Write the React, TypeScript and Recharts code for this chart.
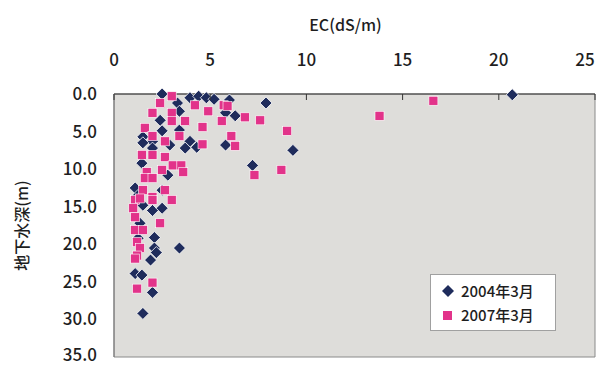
import React from "react";
import {
  CartesianGrid,
  ReferenceArea,
  Scatter,
  ScatterChart,
  XAxis,
  YAxis,
} from "recharts";

// EC (dS/m) and groundwater depth (m)
const ec2004 = [
  20.7, 7.9, 2.5, 3.3, 3.95, 4.4, 4.8, 5.2, 6.0, 3.4, 5.8, 6.3, 2.4, 3.4, 2.5,
  1.5, 2.0, 3.95, 5.8, 4.3, 9.3, 1.5, 2.0, 2.9, 3.7, 7.2, 1.45, 2.8, 1.1, 2.5,
  1.25, 1.5, 2.0, 2.5, 1.35, 2.1, 1.25, 2.1, 3.4, 2.2, 1.9, 1.1, 1.45, 2.0, 1.5,
];
const depth2004 = [
  0.1, 1.2, 0.0, 1.2, 0.5, 0.3, 0.5, 0.7, 0.8, 2.3, 2.5, 2.9, 3.5, 4.8, 4.9,
  5.7, 6.3, 6.3, 6.8, 7.1, 7.5, 6.5, 7.2, 6.8, 7.2, 9.5, 9.2, 10.8, 12.5, 12.8,
  13.5, 14.8, 15.5, 15.2, 17.2, 19.1, 19.2, 20.5, 20.5, 21.1, 22.1, 23.9, 24.1,
  26.4, 29.2,
];

const ec2007 = [
  16.6, 13.8, 9.0, 8.7, 3.0, 2.4, 4.2, 5.7, 5.9, 4.9, 6.8, 7.6, 5.6, 2.0, 3.0,
  3.0, 3.7, 4.6, 1.6, 2.0, 3.4, 2.65, 6.1, 4.6, 6.3, 7.3, 1.45, 2.0, 2.65, 3.05,
  3.5, 1.7, 2.5, 3.6, 1.6, 2.0, 1.5, 2.65, 2.0, 1.1, 1.35, 2.0, 3.0, 1.0, 1.1,
  2.4, 1.1, 1.5, 1.2, 1.35, 1.2, 1.1, 2.0, 1.2,
];
const depth2007 = [
  0.9, 2.9, 4.9, 10.1, 0.3, 1.2, 1.5, 1.5, 1.6, 2.3, 3.1, 3.5, 3.6, 2.5, 2.5,
  3.6, 3.6, 4.4, 4.5, 5.6, 5.6, 6.3, 5.6, 6.7, 6.9, 10.8, 8.1, 8.1, 8.4, 9.5,
  9.5, 10.4, 10.1, 10.4, 11.2, 11.2, 12.8, 12.8, 13.7, 14.1, 13.9, 14.1, 14.1,
  15.2, 16.4, 17.2, 18.1, 18.1, 19.7, 20.5, 21.5, 21.9, 25.1, 25.9,
];

const xTicks = [0, 5, 10, 15, 20, 25];
const yTicks = [0, 5, 10, 15, 20, 25, 30, 35];
const seriesNames = ["2004年3月", "2007年3月"];

const series2004 = ec2004.map((ec, i) => ({ ec, depth: depth2004[i] }));
const series2007 = ec2007.map((ec, i) => ({ ec, depth: depth2007[i] }));

const NAVY = "#1f2c5c";
const PINK = "#e2338a";
const TEXT = "#1e1e1e";
const FONT = "'Noto Sans CJK JP', 'Noto Sans', sans-serif";

const Diamond = (props: any) => {
  const { cx, cy } = props;
  const r = 6;
  return (
    <polygon
      points={`${cx},${cy - r} ${cx + r},${cy} ${cx},${cy + r} ${cx - r},${cy}`}
      fill={NAVY}
      stroke="#fff"
      strokeWidth={0.8}
    />
  );
};

const Square = (props: any) => {
  const { cx, cy } = props;
  const h = 4.5;
  return (
    <rect x={cx - h} y={cy - h} width={h * 2} height={h * 2} fill={PINK} stroke="#fff" strokeWidth={0.6} />
  );
};

const XTick = (props: any) => {
  const { x, y, payload } = props;
  const last = payload.value === 25;
  return (
    <g>
      <line x1={x} x2={x} y1={y} y2={y + 6} stroke="#333" />
      <text
        x={x + (last ? -10 : 0)}
        y={y - 28}
        textAnchor="middle"
        fontSize={17}
        fontWeight={500}
        fill={TEXT}
        fontFamily={FONT}
      >
        {payload.value}
      </text>
    </g>
  );
};

const LegendBox = () => (
  <div
    style={{
      position: "absolute",
      left: 430,
      top: 274,
      background: "#fff",
      border: "1px solid #a0a0a0",
      width: 126,
      height: 57,
      fontFamily: FONT,
      fontSize: 15,
      fontWeight: 500,
      color: TEXT,
      boxSizing: "border-box",
      padding: "4px 0 0 10px",
      lineHeight: "24px",
    }}
  >
    <div style={{ display: "flex", alignItems: "center" }}>
      <svg width={14} height={14} style={{ marginRight: 6 }}>
        <polygon points="7,1 13,7 7,13 1,7" fill={NAVY} />
      </svg>
      {seriesNames[0]}
    </div>
    <div style={{ display: "flex", alignItems: "center" }}>
      <svg width={14} height={14} style={{ marginRight: 6 }}>
        <rect x={2} y={3} width={9} height={9} fill={PINK} />
      </svg>
      {seriesNames[1]}
    </div>
  </div>
);

export default function App() {
  return (
    <div style={{ position: "absolute", left: 0, top: 0, width: 607, height: 365, background: "#fff" }}>
      <ScatterChart width={607} height={365} margin={{ top: 10, right: 12, bottom: 8, left: 10 }}>
        <CartesianGrid horizontal={false} vertical={false} fill="#dedddA" />
        <XAxis
          type="number"
          dataKey="ec"
          orientation="top"
          domain={[0, 25]}
          ticks={xTicks}
          height={84}
          tickSize={0}
          tickMargin={0}
          tickLine={false}
          axisLine={{ stroke: "#333" }}
          tick={<XTick />}
          label={{
            value: "EC(dS/m)",
            position: "insideTop",
            offset: 10,
            dx: -9,
            fontSize: 16,
            fontWeight: 500,
            fill: TEXT,
            fontFamily: FONT,
          }}
        />
        <YAxis
          type="number"
          dataKey="depth"
          reversed
          domain={[0, 35]}
          ticks={yTicks}
          width={104}
          tickSize={0}
          tickMargin={17}
          tickLine={false}
          axisLine={{ stroke: "#777" }}
          tickFormatter={(v: number) => v.toFixed(1)}
          tick={{ fontSize: 17, fontWeight: 500, fill: TEXT, fontFamily: FONT }}
          label={{
            value: "地下水深(m)",
            angle: -90,
            position: "insideLeft",
            offset: 12,
            fontSize: 16,
            fontWeight: 500,
            fill: TEXT,
            fontFamily: FONT,
            style: { textAnchor: "middle" },
          }}
        />
        <ReferenceArea x1={0} x2={25} y1={0} y2={35} fill="none" stroke="#8a8a8a" strokeWidth={1} />
        <Scatter name={seriesNames[0]} data={series2004} shape={<Diamond />} isAnimationActive={false} />
        <Scatter name={seriesNames[1]} data={series2007} shape={<Square />} isAnimationActive={false} />
      </ScatterChart>
      <LegendBox />
    </div>
  );
}
